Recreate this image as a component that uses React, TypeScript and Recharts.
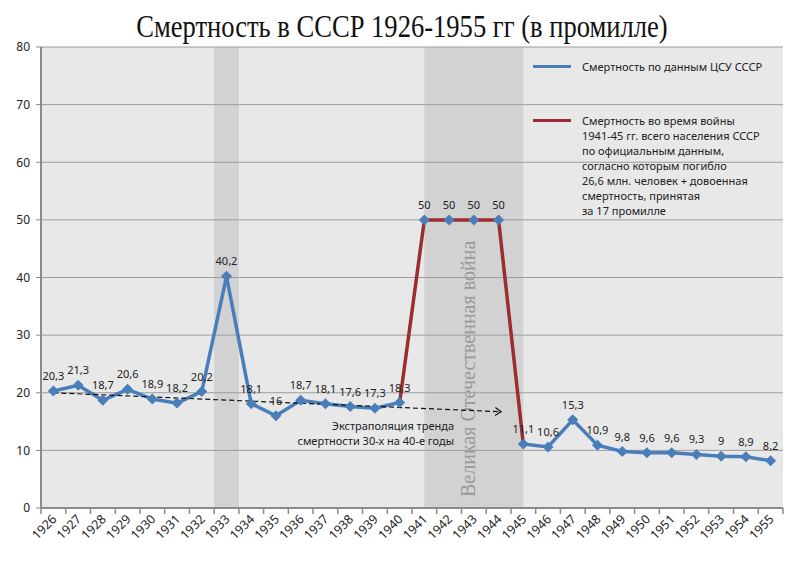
import {
  LineChart,
  Line,
  XAxis,
  YAxis,
  CartesianGrid,
  ReferenceArea,
  ReferenceLine,
  ReferenceDot,
  LabelList,
} from "recharts";

const years = [
  1926, 1927, 1928, 1929, 1930, 1931, 1932, 1933, 1934, 1935, 1936, 1937, 1938, 1939, 1940,
  1941, 1942, 1943, 1944, 1945, 1946, 1947, 1948, 1949, 1950, 1951, 1952, 1953, 1954, 1955,
];

// Смертность по данным ЦСУ СССР (промилле)
const cuMortality: (number | null)[] = [
  20.3, 21.3, 18.7, 20.6, 18.9, 18.2, 20.2, 40.2, 18.1, 16, 18.7, 18.1, 17.6, 17.3, 18.3,
  null, null, null, null, 11.1, 10.6, 15.3, 10.9, 9.8, 9.6, 9.6, 9.3, 9, 8.9, 8.2,
];

// Смертность во время войны 1941-45
const warMortality: (number | null)[] = [
  null, null, null, null, null, null, null, null, null, null, null, null, null, null, 18.3,
  50, 50, 50, 50, 11.1, null, null, null, null, null, null, null, null, null, null,
];

const yTicks = [0, 10, 20, 30, 40, 50, 60, 70, 80];
const famineBand = [1932.5, 1933.5];
const warBand = [1941, 1945];
const trendFrom = { year: 1926, value: 20.0 };
const trendTo = { year: 1944.1, value: 16.7 };

const BLUE = "#4a7ebb";
const RED = "#9b2d2f";
const FONT = '"Noto Sans", sans-serif';

const W = 793;
const H = 569;
const X_AXIS_H = 61;
const MARGIN = { top: 47, right: 10, bottom: 0, left: 0 };
const Y_AXIS_W = 41;
const HALF_CAT = (W - MARGIN.left - MARGIN.right - Y_AXIS_W) / years.length / 2;

const rows = years.map((year, i) => ({
  year,
  cu: cuMortality[i],
  war: warMortality[i],
  all: cuMortality[i] ?? warMortality[i],
}));

const fmt = (v: unknown) => (v == null ? "" : String(v).replace(".", ","));

function YearTick(props: any) {
  const { x, y, payload, index } = props;
  const last = index === years.length - 1;
  return (
    <g>
      <line x1={x - HALF_CAT} x2={x - HALF_CAT} y1={y} y2={y + 6} stroke="#8a8a8a" strokeWidth={1.5} />
      {last && <line x1={x + HALF_CAT} x2={x + HALF_CAT} y1={y} y2={y + 6} stroke="#8a8a8a" strokeWidth={1.5} />}
      <text
        x={x + 4}
        y={y + 12}
        textAnchor="end"
        transform={`rotate(-45, ${x + 4}, ${y + 12})`}
        fontSize={12.5}
        fontFamily={FONT}
        fill="#222"
      >
        {payload.value}
      </text>
    </g>
  );
}

function Diamond(props: any) {
  const { cx, cy, index, payload } = props;
  if (cx == null || cy == null || payload?.all == null) return <g key={`d-${index}`} />;
  const r = 5.5;
  return (
    <polygon
      key={`d-${index}`}
      points={`${cx},${cy - r} ${cx + r},${cy} ${cx},${cy + r} ${cx - r},${cy}`}
      fill={BLUE}
    />
  );
}

function ValueLabel(props: any) {
  const { x, y, value, index } = props;
  if (value == null) return null;
  return (
    <text x={x} y={y - 11} textAnchor="middle" fontSize={11} fontFamily={FONT} fill="#222" key={`l-${index}`}>
      {fmt(value)}
    </text>
  );
}

function WarValueLabel(props: any) {
  const { index } = props;
  if (rows[index]?.cu != null) return null;
  return <ValueLabel {...props} />;
}

function TrendArrow(props: any) {
  const { x1, y1, x2, y2 } = props;
  const ang = Math.atan2(y2 - y1, x2 - x1);
  const L = 7;
  const a1 = ang + Math.PI - 0.6;
  const a2 = ang + Math.PI + 0.6;
  return (
    <g>
      <line x1={x1} y1={y1} x2={x2} y2={y2} stroke="#111" strokeWidth={1.2} strokeDasharray="5 3" />
      <polyline
        points={`${x2 + L * Math.cos(a1)},${y2 + L * Math.sin(a1)} ${x2},${y2} ${x2 + L * Math.cos(a2)},${y2 + L * Math.sin(a2)}`}
        fill="none"
        stroke="#111"
        strokeWidth={1.2}
      />
    </g>
  );
}

function WarCaption(props: any) {
  const { viewBox } = props;
  if (!viewBox) return null;
  const cx = viewBox.x + viewBox.width / 2 + 1;
  const by = viewBox.y + viewBox.height - 11;
  return (
    <text
      x={cx}
      y={by}
      transform={`rotate(-90, ${cx}, ${by})`}
      textAnchor="start"
      fontSize={20}
      fontFamily='"Liberation Serif", serif'
      fill="#9a9a9a"
    >
      Великая Отечественная война
    </text>
  );
}

function TrendCaption(props: any) {
  const { viewBox } = props;
  if (!viewBox) return null;
  const x = viewBox.x + (viewBox.width ?? 0) / 2;
  const y = viewBox.y + (viewBox.height ?? 0) / 2;
  return (
    <text x={x} y={y} textAnchor="end" fontSize={11} fontFamily={FONT} fill="#222">
      <tspan x={x} dy={0}>Экстраполяция тренда</tspan>
      <tspan x={x} dy={14.5}>смертности 30-х на 40-е годы</tspan>
    </text>
  );
}

export default function App() {
  return (
    <div
      style={{
        position: "absolute",
        left: 0,
        top: 0,
        width: W,
        height: H,
        background: "#fff",
        overflow: "hidden",
      }}
    >
      <div
        style={{
          position: "absolute",
          left: 0,
          top: 6,
          width: W,
          textAlign: "center",
          fontFamily: '"Liberation Serif", serif',
          fontSize: 32,
          lineHeight: "40px",
          color: "#111",
          transform: "scaleX(0.83)",
          transformOrigin: "405px 0",
          marginLeft: 4,
        }}
      >
        Смертность в СССР 1926-1955 гг (в промилле)
      </div>

      <div style={{ position: "absolute", top: 0, left: 0 }}>
        <LineChart width={W} height={H} data={rows} margin={MARGIN}>
          <ReferenceArea
            x1={1925.5}
            x2={1955.5}
            y1={0}
            y2={80}
            fill="#e8e8e8"
            fillOpacity={1}
            stroke="none"
            zIndex={-160}
          />
          <ReferenceArea
            x1={famineBand[0]}
            x2={famineBand[1]}
            y1={0}
            y2={80}
            fill="#d2d2d2"
            fillOpacity={1}
            stroke="none"
            zIndex={-150}
          />
          <ReferenceArea
            x1={warBand[0]}
            x2={warBand[1]}
            y1={0}
            y2={80}
            fill="#d2d2d2"
            fillOpacity={1}
            stroke="none"
            zIndex={-150}
            label={<WarCaption />}
          />
          <CartesianGrid vertical={false} stroke="#9c9c9c" strokeWidth={1} />
          <XAxis
            type="number"
            dataKey="year"
            domain={[1925.5, 1955.5]}
            ticks={years}
            interval={0}
            tickSize={0}
            tickMargin={0}
            tickLine={false}
            axisLine={{ stroke: "#8a8a8a", strokeWidth: 2 }}
            tick={<YearTick />}
            height={X_AXIS_H}
            allowDecimals
          />
          <YAxis
            domain={[0, 80]}
            ticks={yTicks}
            width={Y_AXIS_W}
            tickSize={5}
            tickMargin={6}
            tickLine={{ stroke: "#8a8a8a" }}
            axisLine={{ stroke: "#8a8a8a", strokeWidth: 2 }}
            tick={{ fontSize: 12, fontFamily: FONT, fill: "#222" }}
          />
          <Line
            dataKey="cu"
            stroke={BLUE}
            strokeWidth={3.5}
            dot={false}
            activeDot={false}
            connectNulls={false}
            isAnimationActive={false}
          >
            <LabelList dataKey="cu" content={<ValueLabel />} />
          </Line>
          <Line
            dataKey="war"
            stroke={RED}
            strokeWidth={3.5}
            dot={false}
            activeDot={false}
            isAnimationActive={false}
          >
            <LabelList dataKey="war" content={<WarValueLabel />} />
          </Line>
          <Line
            dataKey="all"
            stroke="none"
            dot={<Diamond />}
            activeDot={false}
            isAnimationActive={false}
            legendType="none"
          />
          <ReferenceLine
            segment={[
              { x: trendFrom.year, y: trendFrom.value },
              { x: trendTo.year, y: trendTo.value },
            ]}
            shape={<TrendArrow />}
          />
          <ReferenceDot x={1942.2} y={13.5} r={0} fill="none" stroke="none" label={<TrendCaption />} />
        </LineChart>
      </div>

      <div
        style={{
          position: "absolute",
          left: 533,
          top: 59,
          fontFamily: FONT,
          fontSize: 11,
          lineHeight: "15px",
          color: "#222",
        }}
      >
        <div style={{ display: "flex", alignItems: "center" }}>
          <span style={{ width: 38, height: 3, background: BLUE, marginRight: 11, display: "inline-block" }} />
          <span>Смертность по данным ЦСУ СССР</span>
        </div>
        <div style={{ display: "flex", alignItems: "flex-start", marginTop: 39 }}>
          <span
            style={{ width: 38, height: 3, background: RED, marginRight: 11, marginTop: 6, display: "inline-block", flexShrink: 0 }}
          />
          <span>
            Смертность во время войны
            <br />
            1941-45 гг. всего населения СССР
            <br />
            по официальным данным,
            <br />
            согласно которым погибло
            <br />
            26,6 млн. человек + довоенная
            <br />
            смертность, принятая
            <br />
            за 17 промилле
          </span>
        </div>
      </div>
    </div>
  );
}
